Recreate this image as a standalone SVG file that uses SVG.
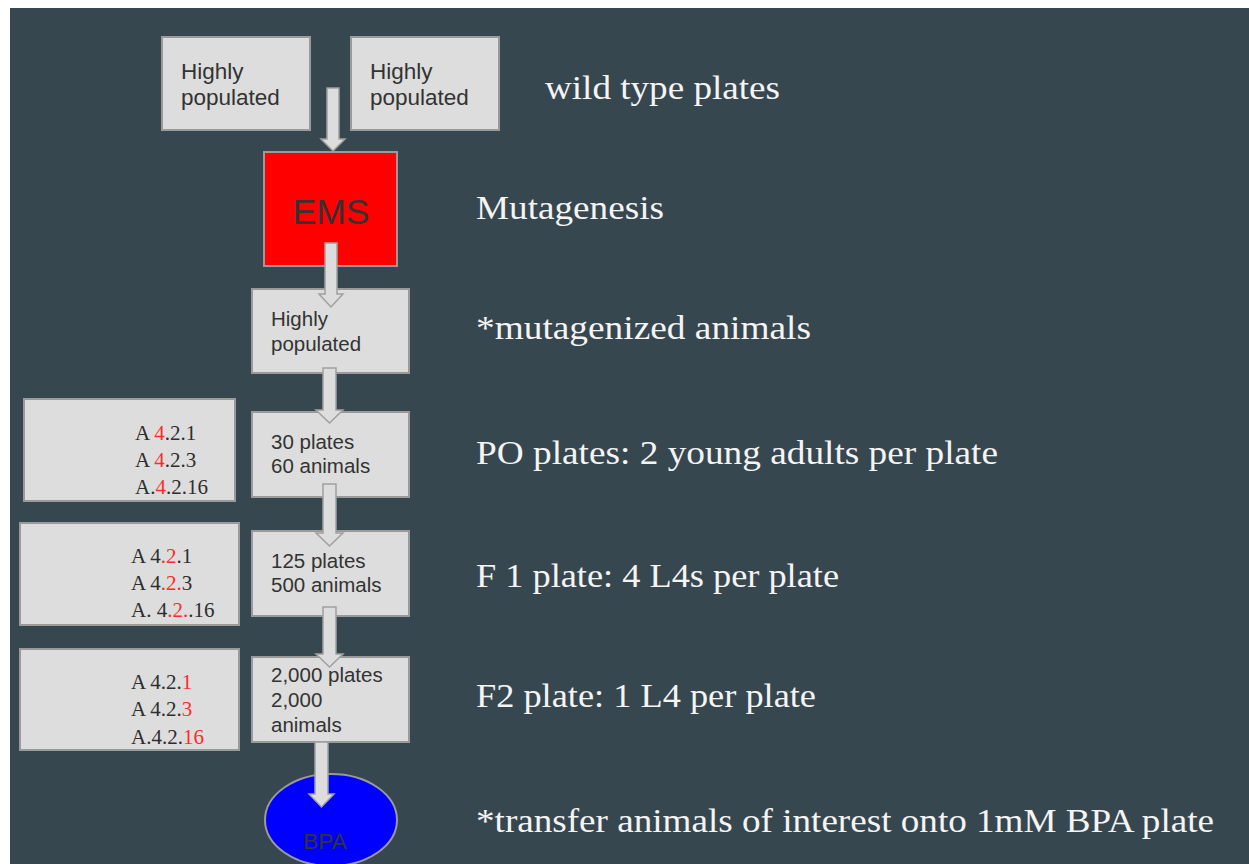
<svg xmlns="http://www.w3.org/2000/svg" width="1249" height="864" viewBox="0 0 1249 864">
<style>
.box{fill:#dddddd;stroke:#9a9a9a;stroke-width:2}
.arr{fill:#dddddd;stroke:#a0a0a0;stroke-width:1.5}
.sans{font-family:"Liberation Sans",Arial,sans-serif;fill:#333333}
.ser{font-family:"Liberation Serif","Times New Roman",serif;font-size:21px;fill:#2e2e2e}
.red{fill:#ff2b2b}
.lbl{font-family:"Liberation Serif","Times New Roman",serif;font-size:33px;fill:#f4f4f4}
</style>
<rect x="0" y="0" width="1249" height="864" fill="#ffffff"/>
<rect x="10" y="8" width="1239" height="856" fill="#37474f"/>

<g id="wt1"><rect class="box" x="162" y="37" width="148" height="93"/>
<text class="sans" font-size="22.5" x="181" y="79">Highly</text><text class="sans" font-size="22.5" x="181" y="105">populated</text></g>
<g id="wt2"><rect class="box" x="351" y="37" width="148" height="93"/>
<text class="sans" font-size="22.5" x="370" y="79">Highly</text><text class="sans" font-size="22.5" x="370" y="105">populated</text></g>
<g id="ems"><rect x="264" y="152" width="133" height="114" fill="#ff0000" stroke="#9a9a9a" stroke-width="2"/>
<text class="sans" font-size="35.5" x="331" y="224" text-anchor="middle" fill="#222">EMS</text></g>
<g id="mut"><rect class="box" x="252" y="289" width="157" height="84"/>
<text class="sans" font-size="20.5" x="271" y="326">Highly</text><text class="sans" font-size="20.5" x="271" y="351">populated</text></g>
<g id="p0"><rect class="box" x="252" y="412" width="157" height="85"/>
<text class="sans" font-size="20.5" x="271" y="449">30 plates</text><text class="sans" font-size="20.5" x="271" y="473">60 animals</text></g>
<g id="f1"><rect class="box" x="252" y="531" width="157" height="85"/>
<text class="sans" font-size="20.5" x="271" y="568">125 plates</text><text class="sans" font-size="20.5" x="271" y="592">500 animals</text></g>
<g id="f2"><rect class="box" x="252" y="657" width="157" height="85"/>
<text class="sans" font-size="20.5" x="271" y="682">2,000 plates</text><text class="sans" font-size="20.5" x="271" y="707">2,000</text><text class="sans" font-size="20.5" x="271" y="732">animals</text></g>
<g id="bpa"><ellipse cx="331" cy="820" rx="66" ry="46" fill="#0000ff" stroke="#9a9a9a" stroke-width="2"/>
<text class="sans" font-size="22.5" x="325" y="849" text-anchor="middle" fill="#111">BPA</text></g>

<g id="list1"><rect class="box" x="24" y="399" width="211" height="102"/>
<text class="ser" x="135" y="440">A <tspan class="red">4</tspan>.2.1</text>
<text class="ser" x="135" y="467">A <tspan class="red">4</tspan>.2.3</text>
<text class="ser" x="135" y="494">A.<tspan class="red">4</tspan>.2.16</text></g>
<g id="list2"><rect class="box" x="20" y="523" width="219" height="102"/>
<text class="ser" x="131" y="563">A 4<tspan class="red">.2</tspan>.1</text>
<text class="ser" x="131" y="590">A 4<tspan class="red">.2.</tspan>3</text>
<text class="ser" x="131" y="617">A. 4<tspan class="red">.2.</tspan>.16</text></g>
<g id="list3"><rect class="box" x="20" y="649" width="219" height="101"/>
<text class="ser" x="131" y="689">A 4.2.<tspan class="red">1</tspan></text>
<text class="ser" x="131" y="716">A 4.2.<tspan class="red">3</tspan></text>
<text class="ser" x="131" y="744">A.4.2.<tspan class="red">16</tspan></text></g>

<g id="labels">
<text class="lbl" x="545" y="99" textLength="235" lengthAdjust="spacingAndGlyphs">wild type plates</text>
<text class="lbl" x="476" y="219" textLength="188" lengthAdjust="spacingAndGlyphs">Mutagenesis</text>
<text class="lbl" x="476" y="339" textLength="335" lengthAdjust="spacingAndGlyphs">*mutagenized animals</text>
<text class="lbl" x="476" y="464" textLength="522" lengthAdjust="spacingAndGlyphs">PO plates: 2 young adults per plate</text>
<text class="lbl" x="476" y="587" textLength="363" lengthAdjust="spacingAndGlyphs">F 1 plate: 4 L4s per plate</text>
<text class="lbl" x="476" y="707" textLength="340" lengthAdjust="spacingAndGlyphs">F2 plate: 1 L4 per plate</text>
<text class="lbl" x="476" y="832" textLength="738" lengthAdjust="spacingAndGlyphs">*transfer animals of interest onto 1mM BPA plate</text>
</g>

<g id="connectors">
<polygon class="arr" points="327,88 339,88 339,139 345,139 333,151 321,139 327,139"/>
<polygon class="arr" points="325,243 337,243 337,294 343,294 331,307 319,294 325,294"/>
<polygon class="arr" points="323,368 336,368 336,410 343,410 329.5,423 316,410 323,410"/>
<polygon class="arr" points="323,484 336,484 336,533 343,533 329.5,546 316,533 323,533"/>
<polygon class="arr" points="323,607 336,607 336,654 343,654 329.5,667 316,654 323,654"/>
<polygon class="arr" points="315,742 328,742 328,794 334,794 321.5,807 309,794 315,794"/>
</g>
</svg>
